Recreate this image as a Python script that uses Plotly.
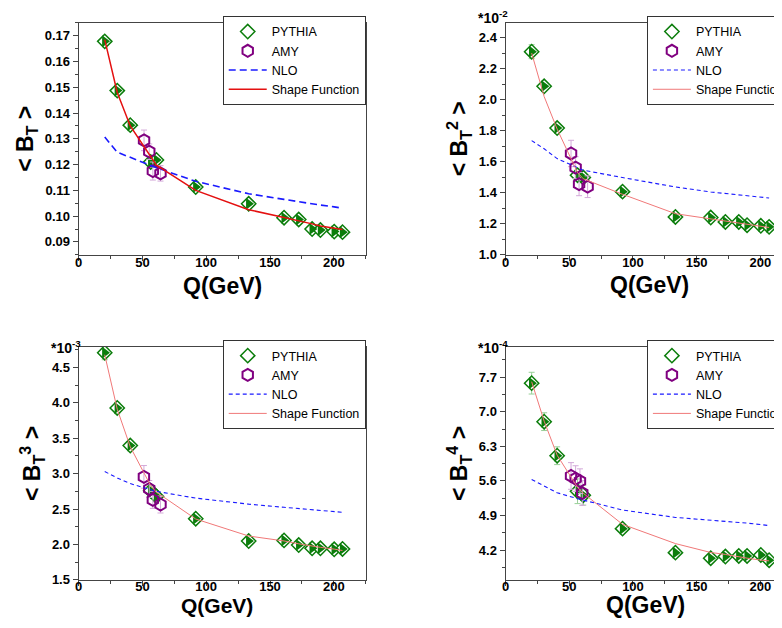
import plotly.graph_objects as go

# ---------------- data ----------------
pythia_q = [20.5, 30.3, 40.5, 56.5, 61.0, 91.8, 133.3, 161.0, 172.5, 183.0, 189.5, 200.3, 206.8]

# <B_T>
bt1_pythia = [0.1678, 0.1487, 0.1353, 0.1210, 0.1218, 0.1113, 0.1048, 0.0994, 0.0987, 0.0950, 0.0946, 0.0940, 0.0938]
bt1_pythia_err = [0.0015, 0.0012, 0.0010, 0.0010, 0.0010, 0.0008, 0.0006, 0.0005, 0.0005, 0.0005, 0.0005, 0.0005, 0.0005]
bt1_shape = [0.1685, 0.1480, 0.1350, 0.1235, 0.1198, 0.1100, 0.1025, 0.0995, 0.0983, 0.0970, 0.0962, 0.0954, 0.0948]
bt1_nlo = [0.1307, 0.1248, 0.1228, 0.1196, 0.1188, 0.1135, 0.1087, 0.1065, 0.1055, 0.1047, 0.1043, 0.1036, 0.1031]
bt1_amy_q = [51.3, 55.4, 58.2, 64.2]
bt1_amy = [0.1294, 0.1250, 0.1175, 0.1166]
bt1_amy_err = [0.0040, 0.0030, 0.0035, 0.0030]

# <B_T^2>  (x 10^-2)
bt2_pythia = [2.309, 2.086, 1.817, 1.513, 1.498, 1.407, 1.244, 1.240, 1.212, 1.212, 1.191, 1.187, 1.180]
bt2_pythia_err = [0.045, 0.030, 0.025, 0.025, 0.020, 0.015, 0.012, 0.010, 0.010, 0.010, 0.010, 0.010, 0.010]
bt2_shape = [2.300, 2.020, 1.810, 1.530, 1.490, 1.390, 1.265, 1.232, 1.218, 1.203, 1.195, 1.182, 1.176]
bt2_nlo = [1.736, 1.683, 1.620, 1.560, 1.545, 1.498, 1.437, 1.405, 1.395, 1.386, 1.380, 1.372, 1.366]
bt2_amy_q = [51.4, 55.0, 57.7, 64.4]
bt2_amy = [1.653, 1.562, 1.456, 1.439]
bt2_amy_err = [0.085, 0.070, 0.075, 0.070]

# <B_T^3>  (x 10^-3)
bt3_pythia = [4.709, 3.928, 3.398, 2.760, 2.680, 2.365, 2.049, 2.058, 1.993, 1.947, 1.947, 1.933, 1.937]
bt3_pythia_err = [0.10, 0.08, 0.07, 0.08, 0.06, 0.04, 0.03, 0.03, 0.03, 0.03, 0.03, 0.03, 0.03]
bt3_shape = [4.680, 3.910, 3.380, 2.830, 2.740, 2.360, 2.120, 2.050, 2.010, 1.975, 1.960, 1.935, 1.915]
bt3_nlo = [3.030, 2.940, 2.860, 2.770, 2.750, 2.655, 2.570, 2.525, 2.510, 2.490, 2.480, 2.465, 2.455]
bt3_amy_q = [51.2, 55.4, 58.2, 64.2]
bt3_amy = [2.955, 2.784, 2.630, 2.565]
bt3_amy_err = [0.160, 0.120, 0.120, 0.120]

# <B_T^4>  (x 10^-4)
bt4_pythia = [7.580, 6.800, 6.110, 5.390, 5.310, 4.633, 4.147, 4.033, 4.067, 4.080, 4.080, 4.100, 3.993]
bt4_pythia_err = [0.22, 0.18, 0.18, 0.25, 0.20, 0.06, 0.05, 0.05, 0.05, 0.05, 0.05, 0.05, 0.05]
bt4_shape = [7.610, 6.810, 6.120, 5.470, 5.350, 4.720, 4.330, 4.150, 4.110, 4.060, 4.035, 3.995, 3.980]
bt4_nlo = [5.630, 5.500, 5.360, 5.240, 5.210, 5.010, 4.860, 4.810, 4.785, 4.760, 4.745, 4.715, 4.695]
bt4_amy_q = [51.4, 55.0, 58.4, 60.2]
bt4_amy = [5.700, 5.647, 5.594, 5.354]
bt4_amy_err = [0.27, 0.26, 0.25, 0.25]

x_ticks = [0, 50, 100, 150, 200]

# ---------------- styling ----------------
FONT = "Liberation Sans, Arial, sans-serif"
GREEN = "#0b7d0b"
GREEN_ERR = "#98cf98"
PURPLE = "#800080"
PURPLE_ERR = "#d3a9d9"
BLUE = "#1a1aff"
AXCOL = "#444444"

W, H = 782, 628
left_x = [67 / W, 356 / W]
right_x = [496.7 / W, 1.0]
top_y = [1 - 250 / H, 1 - 15 / H]
bot_y = [1 - 579.3 / H, 1 - 343.3 / H]

panels = [
    dict(n=1, x=left_x, y=top_y, py=bt1_pythia, pe=bt1_pythia_err, sh=bt1_shape, nlo=bt1_nlo,
         aq=bt1_amy_q, a=bt1_amy, ae=bt1_amy_err, shc="#e41010", shw=1.5, nlow=1.6, dash="7px,4px",
         title="&lt; B<sub>T</sub> &gt;", yr=[0.085, 0.175], tick0=0.09, dt=0.01, mdt=0.005, fmt=".2f",
         xr=[0, 225], right=False, lstand=-9, xt=(211.5, 282, 23), ltop=15),
    dict(n=2, x=right_x, y=top_y, py=bt2_pythia, pe=bt2_pythia_err, sh=bt2_shape, nlo=bt2_nlo,
         aq=bt2_amy_q, a=bt2_amy, ae=bt2_amy_err, shc="#f07878", shw=1.0, nlow=1.1, dash="4px,3px",
         title="&lt; B<sub>T</sub><sup>2</sup> &gt;", yr=[1.0, 2.495], tick0=1.0, dt=0.2, mdt=0.1, fmt=".1f",
         xr=[0, 222.4], right=True, lstand=-9, xt=(642, 281, 23), ltop=15),
    dict(n=3, x=left_x, y=bot_y, py=bt3_pythia, pe=bt3_pythia_err, sh=bt3_shape, nlo=bt3_nlo,
         aq=bt3_amy_q, a=bt3_amy, ae=bt3_amy_err, shc="#f07878", shw=1.0, nlow=1.1, dash="4px,3px",
         title="&lt; B<sub>T</sub><sup>3</sup> &gt;", yr=[1.5, 4.79], tick0=1.5, dt=0.5, mdt=0.25, fmt=".1f",
         xr=[0, 225], right=False, lstand=-11, xt=(206, 605, 21), ltop=343.3),
    dict(n=4, x=right_x, y=bot_y, py=bt4_pythia, pe=bt4_pythia_err, sh=bt4_shape, nlo=bt4_nlo,
         aq=bt4_amy_q, a=bt4_amy, ae=bt4_amy_err, shc="#f07878", shw=1.0, nlow=1.1, dash="4px,3px",
         title="&lt; B<sub>T</sub><sup>4</sup> &gt;", yr=[3.594, 8.314], tick0=4.2, dt=0.7, mdt=0.35, fmt=".1f",
         xr=[0, 222.4], right=True, lstand=-11, xt=(637.5, 605, 23), ltop=343.3),
]

fig = go.Figure()

for p in panels:
    n = p["n"]
    xa = "x" if n == 1 else f"x{n}"
    ya = "y" if n == 1 else f"y{n}"
    lg = "legend" if n == 1 else f"legend{n}"
    # PYTHIA: open diamond with right half filled (overlay)
    fig.add_trace(go.Scatter(
        x=pythia_q, y=p["py"], mode="markers", name="PYTHIA", xaxis=xa, yaxis=ya, legend=lg,
        marker=dict(symbol="diamond", size=11, color="white", line=dict(color=GREEN, width=1.5)),
        error_y=dict(type="data", array=p["pe"], color=GREEN_ERR, thickness=1, width=3),
    ))
    fig.add_trace(go.Scatter(
        x=pythia_q, y=p["py"], mode="markers", name="PYTHIA", xaxis=xa, yaxis=ya, legend=lg,
        showlegend=False, hoverinfo="skip",
        marker=dict(symbol="triangle-right", size=10.5, color=GREEN, line=dict(width=0)),
    ))
    fig.add_trace(go.Scatter(
        x=p["aq"], y=p["a"], mode="markers", name="AMY", xaxis=xa, yaxis=ya, legend=lg,
        marker=dict(symbol="hexagon-open", size=12, color=PURPLE, line=dict(color=PURPLE, width=2)),
        error_y=dict(type="data", array=p["ae"], color=PURPLE_ERR, thickness=1, width=3),
    ))
    fig.add_trace(go.Scatter(
        x=pythia_q, y=p["nlo"], mode="lines", name="NLO", xaxis=xa, yaxis=ya, legend=lg,
        line=dict(color=BLUE, width=p["nlow"], dash=p["dash"]),
    ))
    fig.add_trace(go.Scatter(
        x=pythia_q, y=p["sh"], mode="lines", name="Shape Function", xaxis=xa, yaxis=ya, legend=lg,
        line=dict(color=p["shc"], width=p["shw"]),
    ))

    tickfont = dict(family=FONT, size=13, color="black", weight="bold")
    titlefont = dict(family=FONT, size=23, color="black", weight="bold")
    xkey = "xaxis" if n == 1 else f"xaxis{n}"
    ykey = "yaxis" if n == 1 else f"yaxis{n}"
    fig.layout[xkey] = dict(
        domain=p["x"], anchor=ya, range=p["xr"], tickvals=x_ticks,
        showline=True, linecolor=AXCOL, linewidth=1, mirror=True,
        ticks="outside", ticklen=5, tickcolor=AXCOL, tickfont=tickfont, ticklabelstandoff=p["lstand"],
        minor=dict(ticks="outside", ticklen=3, dtick=25, tick0=0, tickcolor=AXCOL),
        showgrid=False, zeroline=False,
    )
    fig.layout[ykey] = dict(
        domain=p["y"], anchor=xa, range=p["yr"], tick0=p["tick0"], dtick=p["dt"], tickformat=p["fmt"],
        showline=True, linecolor=AXCOL, linewidth=1, mirror=not p["right"],
        ticks="outside", ticklen=5, tickcolor=AXCOL, tickfont=tickfont,
        minor=dict(ticks="outside", ticklen=3, dtick=p["mdt"], tick0=p["tick0"], tickcolor=AXCOL),
        showgrid=False, zeroline=False,
        title=dict(text=p["title"], font=titlefont, standoff=4),
    )
    # x-axis title as centred text below each panel
    cx, cy, fs = p["xt"]
    fig.add_annotation(text="Q(GeV)", xref="paper", yref="paper", x=cx / W, y=1 - cy / H,
                       xanchor="center", yanchor="middle", showarrow=False,
                       font=dict(family=FONT, size=fs, color="black", weight="bold"))

legend_common = dict(bgcolor="white", bordercolor="#333333", borderwidth=1,
                     font=dict(family=FONT, size=12.5, color="black"), itemwidth=38,
                     tracegroupgap=0, yanchor="top")
lg_pos = {1: (356 / W, "right"), 2: (639 / W, "left"), 3: (356 / W, "right"), 4: (639 / W, "left")}
legends = {}
for p in panels:
    n = p["n"]
    key = "legend" if n == 1 else f"legend{n}"
    lx, anc = lg_pos[n]
    legends[key] = dict(x=lx, xanchor=anc, y=1 - (p["ltop"] - 7) / H, **legend_common)

fig.update_layout(
    width=W, height=H, autosize=False,
    margin=dict(l=0, r=0, t=0, b=0),
    paper_bgcolor="white", plot_bgcolor="white",
    **legends,
)

exp_font = dict(family=FONT, size=14, color="black", weight="bold")
for txt, xr, yb in [("*10<sup>-2</sup>", 501, 20), ("*10<sup>-3</sup>", 71, 355), ("*10<sup>-4</sup>", 501, 355)]:
    fig.add_annotation(text=txt, xref="paper", yref="paper", x=xr / W, y=1 - yb / H,
                       xanchor="right", yanchor="bottom", showarrow=False, font=exp_font)

fig.write_html("out.html")
